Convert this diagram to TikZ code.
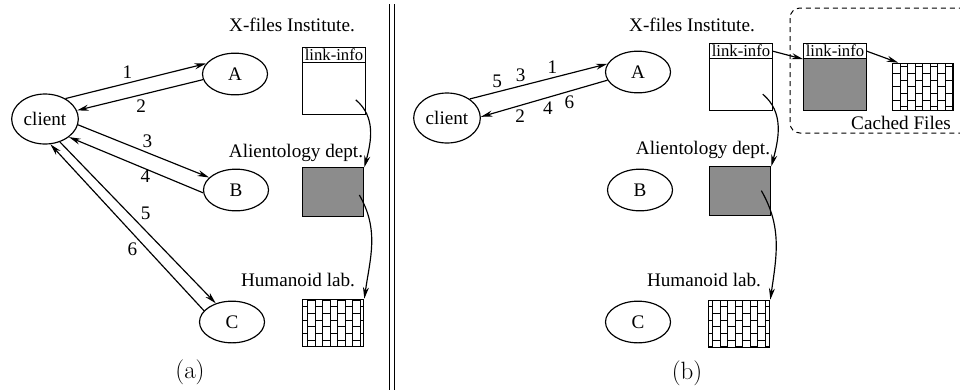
\documentclass[tikz,border=0pt]{standalone}
\usepackage{fontspec}
\setmainfont{Liberation Serif}
\newfontfamily\cmfont{Latin Modern Roman}
\usetikzlibrary{shapes.geometric, arrows, arrows.meta, patterns}

% upright brick wall used for the file icons
\pgfdeclarepatternformonly{vbricks}{\pgfpoint{-0.5pt}{-0.5pt}}{\pgfpoint{9.5pt}{16.5pt}}{\pgfpoint{9pt}{16pt}}{%
  \pgfsetlinewidth{0.6pt}
  \pgfpathmoveto{\pgfpoint{0pt}{-0.5pt}}\pgfpathlineto{\pgfpoint{0pt}{16.5pt}}
  \pgfpathmoveto{\pgfpoint{4.5pt}{-0.5pt}}\pgfpathlineto{\pgfpoint{4.5pt}{16.5pt}}
  \pgfpathmoveto{\pgfpoint{0pt}{2pt}}\pgfpathlineto{\pgfpoint{4.5pt}{2pt}}
  \pgfpathmoveto{\pgfpoint{0pt}{10pt}}\pgfpathlineto{\pgfpoint{4.5pt}{10pt}}
  \pgfpathmoveto{\pgfpoint{4.5pt}{6pt}}\pgfpathlineto{\pgfpoint{9pt}{6pt}}
  \pgfpathmoveto{\pgfpoint{4.5pt}{14pt}}\pgfpathlineto{\pgfpoint{9pt}{14pt}}
  \pgfusepath{stroke}}

\tikzstyle{place} = [ellipse, draw, line width=0.7pt, minimum width=39pt, minimum height=25pt, inner sep=0pt, font=\fontsize{11.5}{13}\selectfont]
\tikzstyle{user} = [place, minimum width=40pt, minimum height=30pt]
\tikzstyle{infobox} = [rectangle, draw, line width=0.6pt, minimum width=37.5pt, minimum height=40pt, fill=white]
\tikzstyle{infohead} = [rectangle, draw, line width=0.6pt, minimum width=37.5pt, minimum height=9pt, inner sep=0.3pt, fill=white, font=\fontsize{10}{10}\selectfont]
\tikzstyle{graybox} = [rectangle, draw, line width=0.6pt, minimum width=37pt, minimum height=29pt, fill=black!45]
\tikzstyle{brickbox} = [rectangle, draw, line width=0.6pt, minimum width=37pt, minimum height=28.5pt, pattern=vbricks]
\tikzstyle{site} = [font=\fontsize{11.5}{13}\selectfont]
\tikzstyle{hop} = [font=\fontsize{11.5}{13}\selectfont, inner sep=2.5pt]
\tikzstyle{caption} = [font=\cmfont\fontsize{15}{17}\selectfont]
\tikzstyle{arrow} = [line width=0.7pt,->,>={Stealth[length=7pt,width=3.6pt]}]

\begin{document}
\begin{tikzpicture}[x=0.6pt, y=-0.6pt]
    \useasboundingbox (0,0) rectangle (960,390);
    \clip (0,0) rectangle (960,390);

    % (a) client asks every site in turn
    \node [user] at (45,119) (client) {client};
    \node [place] at (235,74) (A) {A};
    \node [place] at (236,190) (B) {B};
    \node [place] at (232,322) (C) {C};

    \node [site] at (292,25) (xf1) {X-files Institute.};
    \node [site] at (296,153) (al1) {Alientology dept.};
    \node [site] at (298,280) (hu1) {Humanoid lab.};

    \node [infobox] at (334,81) (li1) {};
    \node [infohead, anchor=north] at (li1.north) (hd1) {link-info};
    \node [graybox] at (333,192) (gr1) {};
    \node [brickbox] at (333,323) (bw1) {};

    \draw [arrow] (client.45) -- node[pos=0.44, above, hop] {1} (A.160);
    \draw [arrow] (A.190) -- node[pos=0.49, below, hop] {2} (client.15);
    \draw [arrow] (client.-10) -- node[pos=0.53, above, hop] {3} (B.155);
    \draw [arrow] (B.185) -- node[pos=0.43, below, hop, inner sep=0pt] {4} (client.-37);
    \draw [arrow] (client.-57) -- node[pos=0.5, above right, hop, inner sep=1.5pt] {5} (C.131);
    \draw [arrow] (C.158) -- node[pos=0.42, below left, hop, inner sep=1pt] {6} (client.-78);

    \draw [arrow] ([xshift=-6pt,yshift=9pt]li1.south east) to[out=-40, in=75] (gr1.north east);
    \draw [arrow] ([xshift=-3pt,yshift=13pt]gr1.south east) to[out=-60, in=82] (bw1.north east);

    \node [caption] at (190,372) (capa) {(a)};

    % separator
    \draw [line width=0.6pt] (389,4) -- (389,390);
    \draw [line width=0.6pt] (394,4) -- (394,390);

    % (b) A fetches and caches the chain for the client
    \node [user] at (447,118) (client2) {client};
    \node [place] at (638,72) (A2) {A};
    \node [place] at (640,190) (B2) {B};
    \node [place] at (638,322) (C2) {C};

    \node [site] at (692,25) (xf2) {X-files Institute.};
    \node [site] at (703,150) (al2) {Alientology dept.};
    \node [site] at (704,280) (hu2) {Humanoid lab.};

    \node [infobox] at (741,77) (li2) {};
    \node [infohead, anchor=north] at (li2.north) (hd2) {link-info};
    \node [graybox] at (740,191) (gr2) {};
    \node [brickbox] at (739,324) (bw2) {};

    \draw [arrow] (client2.40) -- node[pos=0.2, above, hop] {5} node[pos=0.37, above, hop] {3} node[pos=0.6, above, hop] {1} (A2.165);
    \draw [arrow] (A2.195) -- node[pos=0.3, below, hop] {6} node[pos=0.47, below, hop] {4} node[pos=0.69, below, hop] {2} (client2.2);

    \draw [arrow] ([xshift=-6pt,yshift=10pt]li2.south east) to[out=-40, in=75] (gr2.north east);
    \draw [arrow] ([xshift=-6pt,yshift=15pt]gr2.south east) to[out=-60, in=82] (bw2.north east);

    % cache kept at A
    \draw [dashed, line width=0.6pt, dash pattern=on 3pt off 2.4pt, rounded corners=6pt] (790,8) rectangle (975,133);
    \node [infobox, fill=black!45] at (835,77) (cb) {};
    \node [infohead, anchor=north] at (cb.north) (hd3) {link-info};
    \node [brickbox] at (923,87) (bw3) {};
    \node [site] at (901,123) (cf) {Cached Files};

    \draw [arrow] (hd2.east) -- (hd3.south west);
    \draw [arrow] (hd3.east) -- ([xshift=4pt]bw3.north west);

    \node [caption] at (687,373) (capb) {(b)};
\end{tikzpicture}
\end{document}
